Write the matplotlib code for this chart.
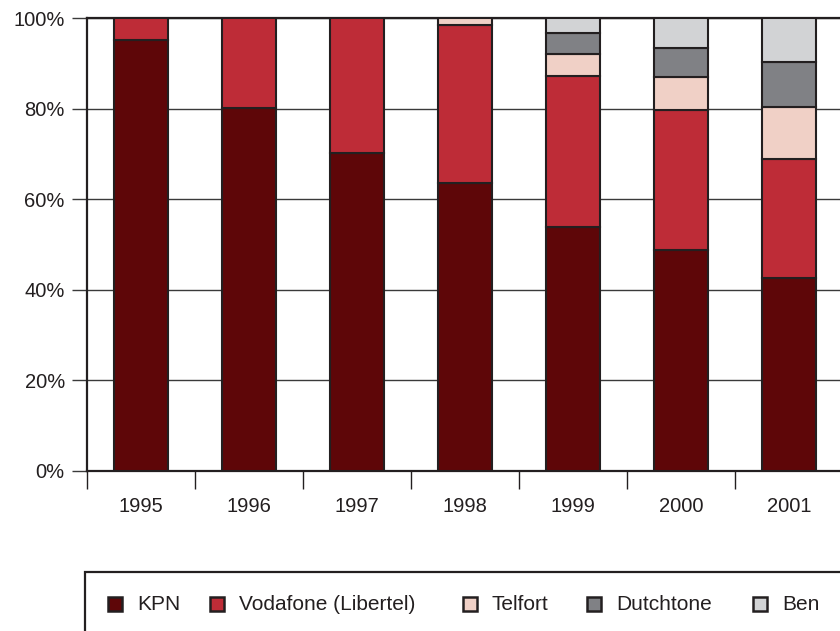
import matplotlib.pyplot as plt
import matplotlib.patches as patches
import numpy as np

years = ['1995', '1996', '1997', '1998', '1999', '2000', '2001']
operators = ['KPN', 'Vodafone (Libertel)', 'Telfort', 'Dutchtone', 'Ben']
colors = ['#5e0608', '#be2c37', '#f0d0c6', '#808185', '#d2d3d5']

kpn = [95.1, 80.1, 70.2, 63.6, 53.9, 48.8, 42.6]
vodafone = [4.9, 19.9, 29.8, 34.9, 33.3, 30.9, 26.3]
telfort = [0.0, 0.0, 0.0, 1.5, 4.9, 7.3, 11.5]
dutchtone = [0.0, 0.0, 0.0, 0.0, 4.6, 6.4, 9.9]
ben = [0.0, 0.0, 0.0, 0.0, 3.3, 6.6, 9.7]

series = [kpn, vodafone, telfort, dutchtone, ben]
edge = '#231f20'

plt.rcParams['font.family'] = ['Liberation Sans', 'DejaVu Sans']

fig = plt.figure(figsize=(8.4, 6.31), dpi=100)
ax = fig.add_axes([87 / 840, 160 / 631, 756 / 840, 453 / 631])

x = np.arange(len(years))
bottom = np.zeros(len(years))
for vals, col in zip(series, colors):
    v = np.array(vals)
    mask = v > 0
    ax.bar(x[mask], v[mask], 0.5, bottom=bottom[mask], color=col,
           edgecolor=edge, linewidth=1.5, zorder=3)
    bottom += v

ax.set_xlim(-0.5, len(years) - 0.5)
ax.set_ylim(0, 100)
ax.set_yticks(np.arange(0, 101, 20))
ax.set_yticklabels([f'{t}%' for t in range(0, 101, 20)], fontsize=14.5)
ax.yaxis.grid(True, color='#3a3a3a', linewidth=1.0, zorder=0)
ax.set_axisbelow(True)
ax.tick_params(axis='y', length=11, width=1, color='#3a3a3a', pad=5,
               labelcolor=edge)

ax.set_xticks(x)
ax.set_xticklabels(years, fontsize=14.5, color=edge)
ax.set_xticks(np.arange(-0.5, len(years), 1), minor=True)
ax.tick_params(axis='x', which='major', length=0, pad=19)
ax.tick_params(axis='x', which='minor', length=13, width=1, color=edge)

for s in ['left', 'bottom', 'top']:
    ax.spines[s].set_color(edge)
    ax.spines[s].set_linewidth(1.6)
ax.spines['right'].set_visible(False)

# legend box
fig.patches.append(patches.Rectangle((85 / 840, -0.05), 0.95, (631 - 572) / 631 + 0.05,
                                     transform=fig.transFigure, fill=False,
                                     edgecolor=edge, linewidth=1.6))
marker_x = [108, 210, 463, 587, 753]
ly = 1 - 604 / 631
for name, col, mx in zip(operators, colors, marker_x):
    fig.patches.append(patches.Rectangle((mx / 840, ly - 7 / 631), 14 / 840, 14 / 631,
                                         transform=fig.transFigure, facecolor=col,
                                         edgecolor=edge, linewidth=1.8))
    fig.text((mx + 29) / 840, ly, name, fontsize=15, va='center', ha='left',
             color=edge)

fig.savefig('out.png', dpi=100)
